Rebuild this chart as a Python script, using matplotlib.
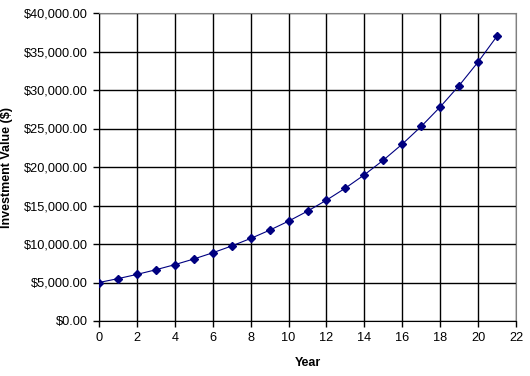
import matplotlib
matplotlib.use("Agg")
import matplotlib.pyplot as plt
from matplotlib.ticker import FuncFormatter, MultipleLocator

plt.rcParams['font.family'] = ['Liberation Sans', 'DejaVu Sans']

years = list(range(22))
values = [5000.00, 5500.00, 6050.00, 6655.00, 7320.50, 8052.55, 8857.81,
          9743.59, 10717.94, 11789.74, 12968.71, 14265.58, 15692.14,
          17261.36, 18987.49, 20886.24, 22974.86, 25272.35, 27799.59,
          30579.55, 33637.50, 37001.25]

fig = plt.figure(figsize=(5.3, 3.76), dpi=100)
ax = fig.add_axes([99 / 530, 55 / 376, 417 / 530, 308 / 376])

ax.plot(years, values, color='#000080', lw=0.8, marker='D', ms=4.5,
        mfc='#000080', mec='#000080', zorder=3)

ax.set_xlim(0, 22)
ax.set_ylim(0, 40000)
ax.xaxis.set_major_locator(MultipleLocator(2))
ax.yaxis.set_major_locator(MultipleLocator(5000))
ax.yaxis.set_major_formatter(FuncFormatter(lambda v, p: f"${v:,.2f}"))
ax.grid(True, color='black', lw=1)
ax.set_axisbelow(True)

for s in ['top', 'right']:
    ax.spines[s].set_color('#808080')
for s in ['left', 'bottom']:
    ax.spines[s].set_color('black')
ax.tick_params(direction='out', length=4, width=1, labelsize=9.2, pad=4)

ax.set_xlabel('Year', fontsize=9, fontweight='bold', labelpad=9)
ax.set_ylabel('Investment Value ($)', fontsize=9, fontweight='bold', labelpad=8)

fig.savefig('out.png', dpi=100)
